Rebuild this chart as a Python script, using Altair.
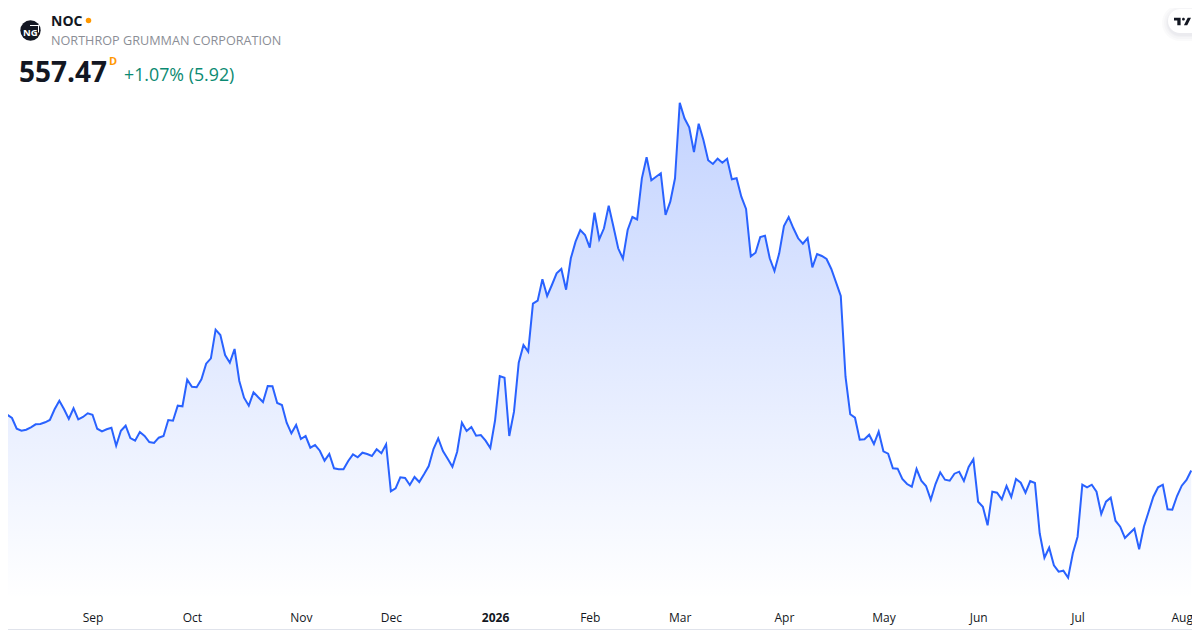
import altair as alt
import pandas as pd

prices = [
614.3,613.3,610,599.3,597.3,598.3,600.7,603.7,604,605.7,608,618.7,627.3,618.7,609,619.7,608.7,611,614.7,613.3,
599.3,596.7,598.7,600.3,582.3,597.3,602.3,590,587.3,596,592,586,585,590.3,592,608,607.3,622.3,621.7,648.3,
641.3,640.7,648.7,664.3,669.7,698.3,693,673,665.3,679,647,630.3,622.3,635.7,630.7,626,642,641.7,625,623,
605.3,594.7,603,589,592,580.3,583,577.3,567.3,574,559.7,558.7,558.7,567,573.7,570.7,575.3,574,572,578.7,
574.7,583.7,536.7,539.7,550.7,550,543,551,546,553.7,562,579,589.7,577,569.3,561.3,576.3,605.3,597,601,
592.3,593,587.3,580,607.5,652,650.3,592,616.3,665.3,683,676.3,724.3,727.3,748.7,732,743,754.7,759,738.3,
769.7,786.3,798,793,780.3,815.3,788.7,799.7,822.3,801.3,779.7,769.3,798,811,808.5,849.7,870.7,847.7,851.3,854.7,
813,826.3,849.7,925.3,909.7,900.7,876,904.3,888,867.7,864,869.3,865.3,869.3,848.7,849.7,831.3,819,771.7,775.3,
791,792.3,769.7,757,774.7,802,811,799.7,789.7,784.3,790,760.7,774,772,769,759,745.7,732,651.3,613.7,
610.3,588.3,588.7,593.3,584,596.3,576.7,574.3,559.7,559.3,549,544,541.3,559,547.3,542,528.3,544,555.7,548.3,
547.3,554.3,556.3,547,561,568.7,526.3,521.3,502.7,536.3,535.3,528.7,542,531,549,545.3,535.3,547,545,494.7,
470.3,480.3,462.7,456.3,457.3,450.3,474.7,491.3,543.3,540.7,543.3,536.3,514,526.3,530.3,507.3,501.3,490,494.7,499.3,
478.7,501.3,516.3,531.3,540.7,543.3,518.7,518.3,532,542.3,548,557.47,
]
tick_days = [19, 40, 63, 82, 104, 124, 143, 165, 186, 206, 227, 249]
tick_labels = ["Sep", "Oct", "Nov", "Dec", "2026", "Feb", "Mar", "Apr", "May", "Jun", "Jul", "Aug"]
symbol = "NOC"
company = "NORTHROP GRUMMAN CORPORATION"
last_price = "557.47"
interval = "D"
change = "+1.07% (5.92)"

FONT = "Open Sans"
W, H = 1184, 592  # plot area; page origin is (8, 8), the page caps the svg width at 1184
df = pd.DataFrame({"day": range(len(prices)), "price": prices})
x_scale = alt.Scale(domain=[1.161, 251.16], nice=False, zero=False)
y_scale = alt.Scale(domain=[428, 1020], nice=False, zero=False)

label_map = "{" + ",".join(f"'{d}':'{t}'" for d, t in zip(tick_days, tick_labels)) + "}"
x_axis = alt.Axis(
    values=tick_days, labelExpr=f"{label_map}[datum.value]", title=None, grid=False, domain=False,
    ticks=False, labelFont=FONT, labelFontSize=12, labelColor="#131722", labelPadding=12, labelFlush=False,
    labelOverlap=False, labelAngle=0,
    labelFontWeight={"expr": "datum.value === 104 ? 700 : 400"},
)

gradient = alt.Gradient(
    gradient="linear",
    stops=[
        alt.GradientStop(color="rgba(41,98,255,0.28)", offset=0),
        alt.GradientStop(color="rgba(41,98,255,0)", offset=1),
    ],
    x1=0, x2=0, y1=0, y2=1,
)
area = alt.Chart(df).mark_area(color=gradient, clip=True, interpolate="linear").encode(
    x=alt.X("day:Q", scale=x_scale, axis=x_axis),
    y=alt.Y("price:Q", scale=y_scale, axis=None),
    y2=alt.Y2(datum=428),
)
line = alt.Chart(df).mark_line(color="#2962FF", strokeWidth=2, clip=True, interpolate="linear").encode(
    x=alt.X("day:Q", scale=x_scale, axis=x_axis),
    y=alt.Y("price:Q", scale=y_scale, axis=None),
)


def one():
    return alt.Chart(alt.Data(values=[{"t": ""}]))


def label(text, px, py, **kw):
    base = dict(font=FONT, align="left", baseline="alphabetic")
    base.update(kw)
    return alt.Chart(alt.Data(values=[{"t": text}])).mark_text(**base).encode(
        x=alt.value(px - 8), y=alt.value(py - 8), text="t:N"
    )


def box(x0, y0, x1, y1, **kw):
    return one().mark_rect(**kw).encode(
        x=alt.value(x0 - 8), x2=alt.value(x1 - 8), y=alt.value(y0 - 8), y2=alt.value(y1 - 8)
    )


def glyph(cx, cy, size, **kw):
    return one().mark_point(**kw).encode(x=alt.value(cx - 8), y=alt.value(cy - 8), size=alt.value(size))


border = box(-20, -20, 1230, 629.5, fillOpacity=0, stroke="#e0e3eb", strokeWidth=1, cornerRadius=8)

pill_shadow = [
    box(1168 - g, 9 - g + 2, 1230, 33 + g + 2, color="#131722", opacity=0.018, cornerRadius=12 + g)
    for g in (6, 4, 2, 1)
]
pill = box(1168, 9, 1230, 33, color="#ffffff", cornerRadius=12)
tv_path = (
    "M-1 -0.444H-0.222V0.444H-0.611V-0.111H-1Z"
    "M0.611 -0.444H1L0.556 0.444H0.167Z"
    "M0.278 -0.278A0.167 0.167 0 1 1 -0.056 -0.278A0.167 0.167 0 1 1 0.278 -0.278Z"
)
tv_logo = glyph(1182.5, 21.5, 289, shape=tv_path, filled=True, color="#131722", opacity=1, strokeWidth=0)

badge = glyph(30.5, 30.5, 415, shape="circle", filled=True, color="#131722", opacity=1, strokeWidth=0)
badge_text = label("NG", 23, 36, fontSize=9.5, fontWeight=700, color="#ffffff")
bracket_a = one().mark_rule(color="#ffffff", strokeWidth=1).encode(
    x=alt.value(30 - 8), x2=alt.value(39 - 8), y=alt.value(25.5 - 8))
bracket_b = one().mark_rule(color="#ffffff", strokeWidth=1).encode(
    x=alt.value(38.5 - 8), y=alt.value(25.5 - 8), y2=alt.value(32.5 - 8))

texts = [
    label(symbol, 51, 26, fontSize=14, fontWeight=700, color="#131722"),
    glyph(88.5, 20.5, 30, shape="circle", filled=True, color="#ff9800", opacity=1, strokeWidth=0),
    label(company, 51, 45, fontSize=12.65, color="#8b8e96"),
    label(last_price, 19, 82, fontSize=28, fontWeight=700, color="#131722"),
    label(interval, 109, 65, fontSize=11, fontWeight=700, color="#ff9800"),
    label(change, 124, 81, fontSize=17.8, color="#0b8a72"),
]

chart = alt.layer(
    area, line, border, *pill_shadow, pill, tv_logo, badge, badge_text, bracket_a, bracket_b, *texts
).properties(
    width=W, height=H, padding={"left": 0, "top": 0, "right": 0, "bottom": 30},
    autosize=alt.AutoSizeParams(type="none"),
    background="#ffffff",
).configure_view(strokeWidth=0)

chart.save("out.html", embed_options={"renderer": "svg", "actions": False})
